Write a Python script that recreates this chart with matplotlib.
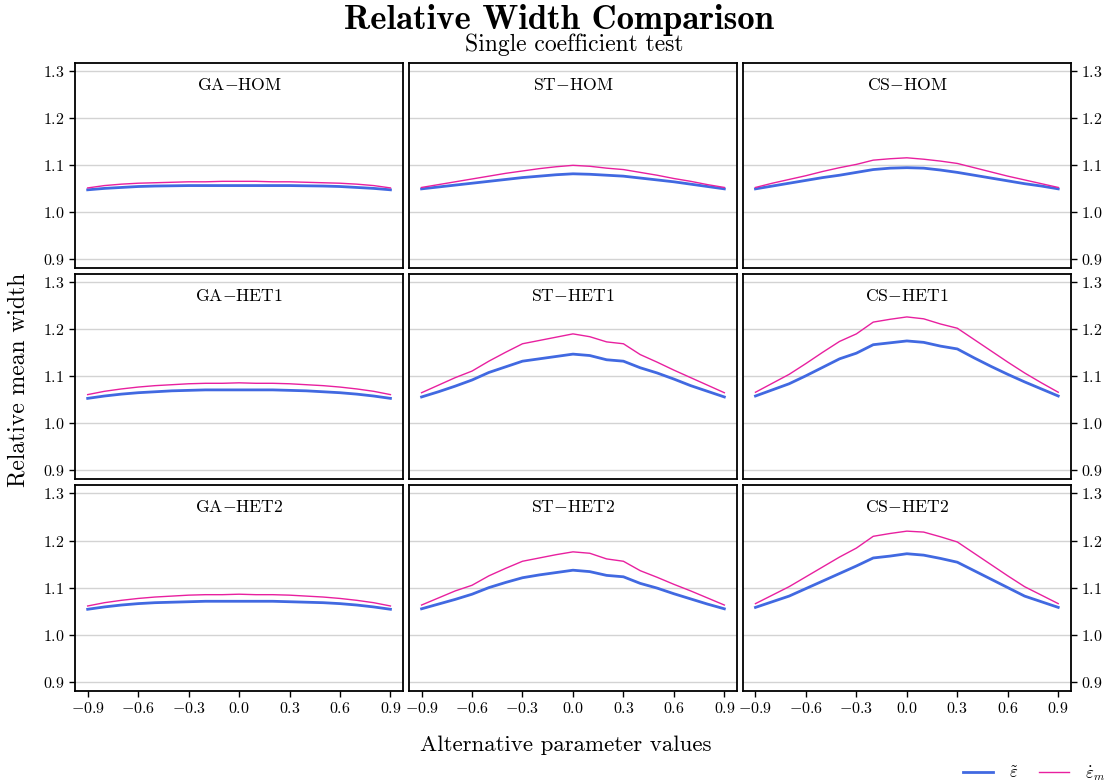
import numpy as np
import matplotlib
matplotlib.use("Agg")
import matplotlib.pyplot as plt

plt.rcParams['font.family'] = 'cmr10'
plt.rcParams['mathtext.fontset'] = 'cm'
plt.rcParams['axes.formatter.use_mathtext'] = True
plt.rcParams['axes.unicode_minus'] = True

x_values = np.round(np.arange(-0.9, 0.91, 0.1), 1)
designs = ['GA', 'ST', 'CS']
scenarios = ['HOM', 'HET1', 'HET2']

# tilde epsilon (blue) by scenario/design
tilde_eps = {
    ('GA', 'HOM'): [1.047, 1.050, 1.052, 1.054, 1.055, 1.0555, 1.056, 1.056, 1.056, 1.056,
                    1.056, 1.056, 1.056, 1.0555, 1.055, 1.054, 1.052, 1.050, 1.047],
    ('ST', 'HOM'): [1.049, 1.053, 1.057, 1.061, 1.065, 1.069, 1.073, 1.076, 1.079, 1.081,
                    1.080, 1.078, 1.076, 1.072, 1.068, 1.064, 1.059, 1.054, 1.049],
    ('CS', 'HOM'): [1.049, 1.055, 1.061, 1.067, 1.073, 1.078, 1.084, 1.090, 1.093, 1.094,
                    1.093, 1.089, 1.084, 1.078, 1.072, 1.066, 1.060, 1.055, 1.049],
    ('GA', 'HET1'): [1.053, 1.058, 1.062, 1.065, 1.067, 1.069, 1.070, 1.071, 1.071, 1.071,
                     1.071, 1.071, 1.070, 1.069, 1.067, 1.065, 1.062, 1.058, 1.053],
    ('ST', 'HET1'): [1.056, 1.067, 1.079, 1.092, 1.108, 1.120, 1.132, 1.137, 1.142, 1.147,
                     1.144, 1.135, 1.132, 1.118, 1.107, 1.094, 1.080, 1.068, 1.056],
    ('CS', 'HET1'): [1.058, 1.071, 1.084, 1.101, 1.119, 1.137, 1.149, 1.167, 1.171, 1.175,
                     1.172, 1.164, 1.158, 1.139, 1.121, 1.104, 1.088, 1.073, 1.058],
    ('GA', 'HET2'): [1.054, 1.059, 1.063, 1.066, 1.068, 1.069, 1.070, 1.071, 1.071, 1.071,
                     1.071, 1.071, 1.070, 1.069, 1.068, 1.066, 1.063, 1.059, 1.054],
    ('ST', 'HET2'): [1.055, 1.065, 1.075, 1.086, 1.100, 1.111, 1.121, 1.127, 1.132, 1.137,
                     1.134, 1.126, 1.123, 1.109, 1.099, 1.087, 1.076, 1.065, 1.055],
    ('CS', 'HET2'): [1.058, 1.070, 1.082, 1.098, 1.114, 1.130, 1.146, 1.163, 1.167, 1.172,
                     1.169, 1.162, 1.154, 1.136, 1.118, 1.100, 1.082, 1.070, 1.058],
}

# dot epsilon_m (pink)
dot_eps_m = {
    ('GA', 'HOM'): [1.051, 1.056, 1.059, 1.061, 1.062, 1.063, 1.064, 1.064, 1.065, 1.065,
                    1.065, 1.064, 1.064, 1.063, 1.062, 1.061, 1.059, 1.056, 1.051],
    ('ST', 'HOM'): [1.052, 1.058, 1.064, 1.070, 1.076, 1.082, 1.087, 1.092, 1.096, 1.099,
                    1.097, 1.093, 1.090, 1.084, 1.078, 1.071, 1.065, 1.058, 1.052],
    ('CS', 'HOM'): [1.052, 1.061, 1.069, 1.077, 1.086, 1.094, 1.101, 1.110, 1.113, 1.115,
                    1.112, 1.108, 1.103, 1.094, 1.085, 1.076, 1.068, 1.060, 1.052],
    ('GA', 'HET1'): [1.061, 1.068, 1.073, 1.077, 1.080, 1.082, 1.084, 1.085, 1.085, 1.086,
                     1.085, 1.085, 1.084, 1.082, 1.080, 1.077, 1.073, 1.068, 1.061],
    ('ST', 'HET1'): [1.065, 1.081, 1.097, 1.111, 1.132, 1.151, 1.169, 1.176, 1.183, 1.190,
                     1.184, 1.173, 1.169, 1.146, 1.130, 1.113, 1.097, 1.081, 1.065],
    ('CS', 'HET1'): [1.066, 1.085, 1.104, 1.127, 1.151, 1.174, 1.190, 1.215, 1.221, 1.226,
                     1.222, 1.211, 1.202, 1.178, 1.154, 1.130, 1.107, 1.086, 1.066],
    ('GA', 'HET2'): [1.061, 1.068, 1.073, 1.077, 1.080, 1.082, 1.084, 1.085, 1.085, 1.086,
                     1.085, 1.085, 1.084, 1.082, 1.080, 1.077, 1.073, 1.068, 1.061],
    ('ST', 'HET2'): [1.063, 1.078, 1.093, 1.105, 1.125, 1.141, 1.156, 1.163, 1.170, 1.176,
                     1.173, 1.161, 1.156, 1.136, 1.122, 1.107, 1.093, 1.078, 1.063],
    ('CS', 'HET2'): [1.066, 1.084, 1.102, 1.123, 1.144, 1.165, 1.184, 1.209, 1.215, 1.220,
                     1.218, 1.208, 1.197, 1.173, 1.149, 1.125, 1.102, 1.084, 1.066],
}

x_ticks = [-0.9, -0.6, -0.3, 0.0, 0.3, 0.6, 0.9]
y_ticks = [0.9, 1.0, 1.1, 1.2, 1.3]

blue = '#4169e1'
pink = '#e8209f'

fig, axes = plt.subplots(3, 3, figsize=(11.12, 7.84), dpi=100)
fig.subplots_adjust(left=0.0675, right=0.963, top=0.920, bottom=0.119,
                    wspace=0.018, hspace=0.03)

for r, scen in enumerate(scenarios):
    for c, des in enumerate(designs):
        ax = axes[r, c]
        ax.plot(x_values, tilde_eps[(des, scen)], color=blue, lw=2.0,
                label=r'$\tilde{\varepsilon}$')
        ax.plot(x_values, dot_eps_m[(des, scen)], color=pink, lw=1.0,
                label=r'$\dot{\varepsilon}_m$')
        ax.set_xlim(-0.975, 0.975)
        ax.set_ylim(0.881, 1.317)
        ax.set_yticks(y_ticks)
        ax.set_xticks(x_ticks)
        ax.grid(axis='y', color='#d3d3d3', lw=1.0)
        ax.set_axisbelow(True)
        for s in ax.spines.values():
            s.set_linewidth(1.3)
            s.set_color('black')
        ax.tick_params(direction='out', length=4, width=1.0, labelsize=11.5)
        ax.text(0.5, 0.893, des + r'$-$' + scen, transform=ax.transAxes,
                ha='center', va='center', fontsize=12.7)
        if r < 2:
            ax.tick_params(axis='x', bottom=False, labelbottom=False)
        else:
            ax.set_xticklabels([r'$%s$' % ('%.1f' % v) for v in x_ticks])
        if c == 0:
            ax.set_yticklabels([r'$%.1f$' % v for v in y_ticks])
        elif c == 2:
            ax.yaxis.tick_right()
            ax.set_yticklabels([r'$%.1f$' % v for v in y_ticks])
        else:
            ax.tick_params(axis='y', left=False, labelleft=False)

fig.text(0.503, 0.975, 'Relative Width Comparison', ha='center', va='center',
         fontsize=25, fontname='cmb10')
fig.text(0.516, 0.943, 'Single coefficient test', ha='center', va='center',
         fontsize=17)
fig.text(0.017, 0.515, 'Relative mean width', rotation=90, ha='center',
         va='center', fontsize=17)
fig.text(0.509, 0.049, 'Alternative parameter values', ha='center',
         va='center', fontsize=16.5)

handles, labels = axes[0, 0].get_legend_handles_labels()
fig.legend(handles, labels, loc='lower right', bbox_to_anchor=(1.008, -0.018),
           ncol=2, frameon=False, fontsize=12, handlelength=1.8,
           handletextpad=1.0, columnspacing=1.2)

fig.savefig('out.png', dpi=100)
